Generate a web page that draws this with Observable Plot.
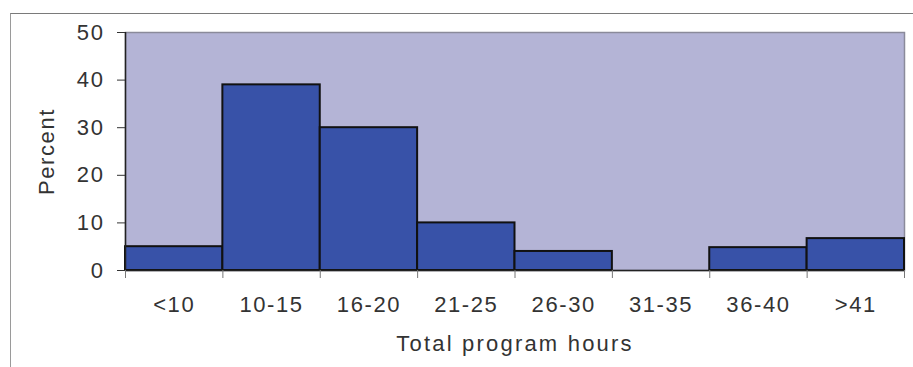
<!DOCTYPE html>
<html>
<head>
<meta charset="utf-8">
<script src="https://cdn.jsdelivr.net/npm/d3@7"></script>
<script src="https://cdn.jsdelivr.net/npm/@observablehq/plot@0.6"></script>
<style>
  html, body { margin: 0; padding: 0; background: #fff; }
  #wrap { position: relative; width: 913px; height: 367px; overflow: hidden; }
  #border { position: absolute; left: 10px; top: 13px; right: -2px; bottom: -2px;
            border-top: 1.5px solid #7a7a7a; border-left: 1.5px solid #9a9a9a; pointer-events: none; }
  #chart { position: absolute; left: 0; top: 0; }
  #chart svg text { letter-spacing: 1.6px; }
  #chart svg text.title { letter-spacing: 2.2px; }
</style>
</head>
<body>
<div id="wrap"><div id="border"></div><div id="chart"></div></div>
<script>
// Share of programs by total program hours
const categories = ["<10", "10-15", "16-20", "21-25", "26-30", "31-35", "36-40", ">41"];
const percents = [5, 39, 30, 10, 4, 0, 4.8, 6.7];
const yTicks = [0, 10, 20, 30, 40, 50];

const rows = categories.map((c, i) => ({category: c, index: i, percent: percents[i]}));
const boundaries = d3.range(categories.length + 1);

const font = "'Liberation Sans', Arial, sans-serif";
const ink = "#333333";

const chart = Plot.plot({
  width: 913,
  height: 367,
  marginLeft: 125,
  marginRight: 9,
  marginTop: 32,
  marginBottom: 97,
  style: {fontFamily: font, color: ink, background: "transparent"},
  x: {type: "linear", domain: [0, categories.length], axis: null},
  y: {domain: [0, 50], axis: null},
  marks: [
    Plot.frame({fill: "#b4b4d6", stroke: "#8a8a9a", strokeWidth: 1.5}),
    Plot.rectY(rows.filter(d => d.percent > 0), {
      x1: "index",
      x2: d => d.index + 1,
      y: "percent",
      fill: "#3852a8",
      stroke: "#111",
      strokeWidth: 2
    }),
    Plot.ruleY([0], {stroke: "#222", strokeWidth: 1.5}),
    Plot.ruleX([0], {stroke: "#222", strokeWidth: 1.5}),
    Plot.axisY({
      ticks: yTicks,
      tickSize: 8,
      tickPadding: 13,
      tickFormat: d => String(d),
      fontSize: 22,
      label: null,
      stroke: "#333"
    }),
    // tick marks at the category boundaries
    Plot.axisX({
      ticks: boundaries,
      tickSize: 8,
      tickFormat: () => "",
      label: null,
      stroke: "#777"
    }),
    Plot.text(rows, {
      x: d => d.index + 0.5,
      y: 0,
      text: "category",
      dy: 34,
      fontSize: 22,
      fill: ink
    }),
    Plot.text(["Total program hours"], {
      frameAnchor: "bottom",
      lineAnchor: "middle",
      textAnchor: "middle",
      dy: 73,
      fontSize: 22,
      fill: ink,
      className: "title"
    }),
    Plot.text(["Percent"], {
      frameAnchor: "left",
      textAnchor: "middle",
      lineAnchor: "middle",
      rotate: -90,
      dx: -79,
      fontSize: 22,
      fill: ink
    })
  ]
});

// mark the axis title text so it can take its own letter spacing
chart.querySelectorAll("g.title text").forEach(t => t.classList.add("title"));
document.getElementById("chart").appendChild(chart);
</script>
</body>
</html>
